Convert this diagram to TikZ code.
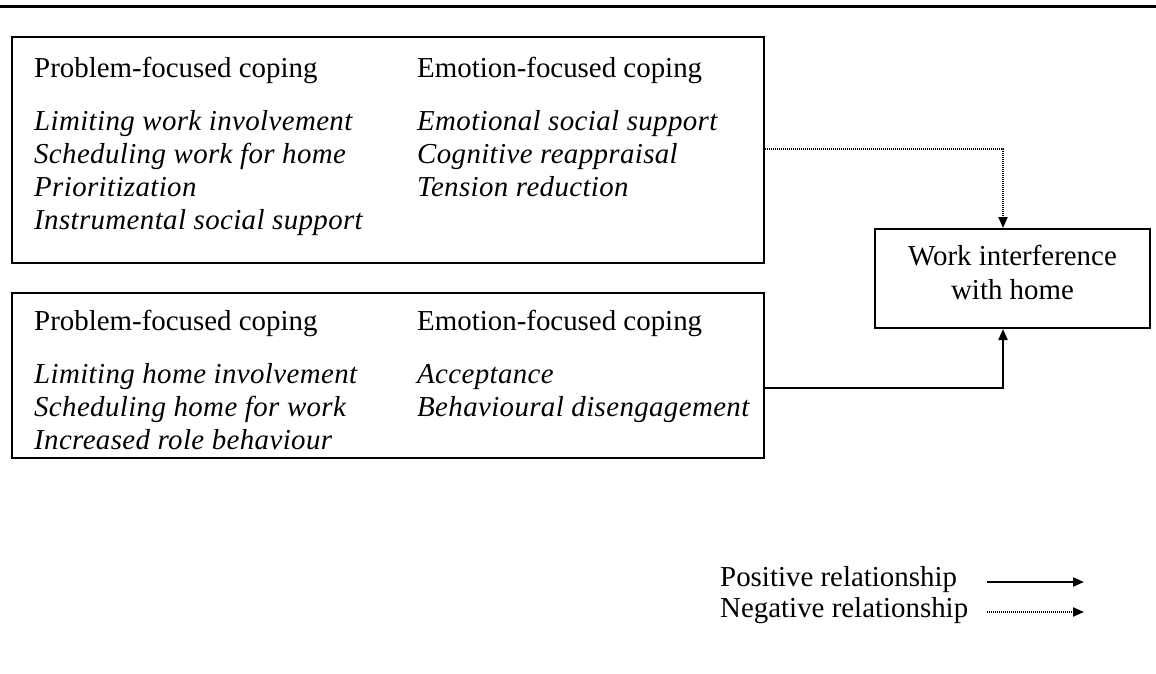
\documentclass[tikz,border=0pt]{standalone}
\usepackage{fontspec}
\setmainfont{Liberation Serif}
\newfontfamily\itspaced[LetterSpace=1.3,ItalicFont={Liberation Serif Italic}]{Liberation Serif Italic}
\usetikzlibrary{arrows.meta}
\tikzset{
  txt/.style={anchor=base west, inner sep=0pt, font=\fontsize{28.9}{33}\selectfont},
  itx/.style={txt, font=\fontsize{28.9}{33}\selectfont\itspaced},
  ctx/.style={anchor=base, inner sep=0pt, font=\fontsize{28.9}{33}\selectfont},
  boxshape/.style={draw, line width=2pt, inner sep=0pt, rectangle},
  posrel/.style={line width=2pt, -{Triangle[length=11pt,width=9pt]}},
  negrel/.style={line width=2pt, dash pattern=on 1.2pt off 0.8pt, -{Triangle[length=11pt,width=9pt]}},
}
\begin{document}
\begin{tikzpicture}[x=1pt,y=-1pt]
\useasboundingbox (0,0) rectangle (1156,673);
% top rule
\coordinate (rl) at (0,6);
\coordinate (rr) at (1156,6);
\draw[line width=3pt] (rl) -- (rr);

% box 1
\node[boxshape, minimum width=752pt, minimum height=226pt] (b1) at (388,150) {};
\node[txt] (b1h1) at (34,77) {Problem-focused coping};
\node[txt] (b1h2) at (417,77) {Emotion-focused coping};
\node[itx] (b1a) at (34,130) {Limiting work involvement};
\node[itx] (b1b) at (34,163) {Scheduling work for home};
\node[itx] (b1c) at (34,196) {Prioritization};
\node[itx] (b1d) at (34,229) {Instrumental social support};
\node[itx] (b1e) at (417,130) {Emotional social support};
\node[itx] (b1f) at (417,163) {Cognitive reappraisal};
\node[itx] (b1g) at (417,196) {Tension reduction};

% box 2
\node[boxshape, minimum width=752pt, minimum height=165pt] (b2) at (388,375.5) {};
\node[txt] (b2h1) at (34,330) {Problem-focused coping};
\node[txt] (b2h2) at (417,330) {Emotion-focused coping};
\node[itx] (b2a) at (34,383) {Limiting home involvement};
\node[itx] (b2b) at (34,416) {Scheduling home for work};
\node[itx] (b2c) at (34,449) {Increased role behaviour};
\node[itx] (b2d) at (417,383) {Acceptance};
\node[itx] (b2e) at (417,416) {Behavioural disengagement};

% outcome box
\node[boxshape, minimum width=275pt, minimum height=99pt] (work) at (1012.5,278.5) {};
\node[ctx] (w1) at (1012.5,265) {Work interference};
\node[ctx] (w2) at (1012.5,299) {with home};

% connectors
\draw[negrel] ([yshift=1pt]b1.east) -| ([xshift=-9.5pt]work.north);
\draw[posrel] ([yshift=-12.5pt]b2.east) -| ([xshift=-9.5pt]work.south);

% legend
\node[txt] (lp) at (720,586) {Positive relationship};
\node[txt] (ln) at (720,617) {Negative relationship};
\coordinate (p1) at (987,582);
\coordinate (p2) at (1084,582);
\coordinate (n1) at (987,612);
\coordinate (n2) at (1084,612);
\draw[posrel] (p1) -- (p2);
\draw[negrel] (n1) -- (n2);
\end{tikzpicture}
\end{document}
